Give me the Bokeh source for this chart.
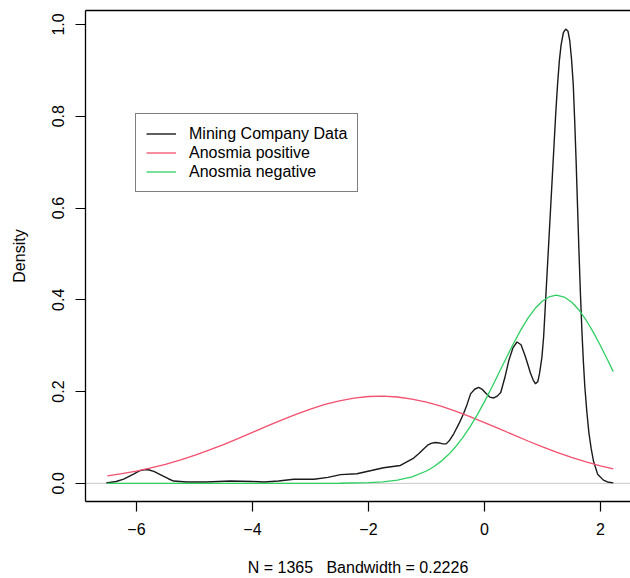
from bokeh.plotting import figure
from bokeh.models import Range1d, FixedTicker, LinearAxis, Span, Legend, LegendItem
from bokeh.embed import file_html
from bokeh.resources import INLINE

# ---- data ----
mining_x = [-6.52, -6.35, -6.22, -6.05, -5.95, -5.85, -5.78, -5.70, -5.59, -5.45,
            -5.36, -5.13, -4.80, -4.38, -4.00, -3.80, -3.55, -3.29, -2.94, -2.70,
            -2.48, -2.20, -1.95, -1.74, -1.45, -1.22, -1.13, -1.05, -0.98, -0.92,
            -0.85, -0.78, -0.72, -0.66, -0.60, -0.53, -0.44, -0.36, -0.30, -0.24,
            -0.17, -0.10, -0.04, 0.02, 0.09, 0.16, 0.22, 0.28, 0.35, 0.42,
            0.49, 0.56, 0.63, 0.70, 0.75, 0.79, 0.84, 0.88, 0.92, 0.95,
            0.99, 1.02, 1.05, 1.08, 1.11, 1.14, 1.17, 1.20, 1.23, 1.26,
            1.29, 1.32, 1.36, 1.40, 1.44, 1.47, 1.50, 1.53, 1.555, 1.58,
            1.605, 1.63, 1.655, 1.68, 1.705, 1.73, 1.765, 1.80, 1.84, 1.88,
            1.95, 2.05, 2.12, 2.22]
mining_d = [0.001, 0.004, 0.009, 0.020, 0.027, 0.030, 0.029, 0.026, 0.019, 0.010,
            0.005, 0.003, 0.003, 0.005, 0.004, 0.003, 0.005, 0.009, 0.009, 0.013,
            0.019, 0.021, 0.028, 0.034, 0.039, 0.055, 0.065, 0.075, 0.083, 0.087,
            0.089, 0.088, 0.086, 0.086, 0.094, 0.108, 0.130, 0.152, 0.172, 0.195,
            0.205, 0.209, 0.205, 0.197, 0.188, 0.186, 0.190, 0.198, 0.230, 0.268,
            0.295, 0.308, 0.302, 0.278, 0.258, 0.241, 0.225, 0.217, 0.222, 0.240,
            0.275, 0.320, 0.390, 0.460, 0.530, 0.600, 0.670, 0.740, 0.810, 0.870,
            0.920, 0.955, 0.982, 0.990, 0.985, 0.965, 0.925, 0.870, 0.790, 0.700,
            0.600, 0.500, 0.410, 0.330, 0.265, 0.210, 0.155, 0.110, 0.075, 0.048,
            0.020, 0.007, 0.003, 0.001]

pos_x = [-6.5, -6.25, -6.0, -5.75, -5.5, -5.25, -5.0, -4.75, -4.5, -4.25,
         -4.0, -3.75, -3.5, -3.25, -3.0, -2.75, -2.5, -2.25, -2.0, -1.75,
         -1.5, -1.25, -1.0, -0.75, -0.5, -0.25, 0.0, 0.25, 0.5, 0.75,
         1.0, 1.25, 1.5, 1.75, 2.0, 2.22]
pos_d = [0.0163, 0.0210, 0.0267, 0.0335, 0.0414, 0.0506, 0.0608, 0.0722, 0.0844, 0.0975,
         0.1109, 0.1245, 0.1378, 0.1504, 0.1619, 0.1719, 0.1799, 0.1858, 0.1892, 0.1900,
         0.1881, 0.1837, 0.1769, 0.1681, 0.1574, 0.1454, 0.1325, 0.1191, 0.1055, 0.0922,
         0.0794, 0.0675, 0.0566, 0.0468, 0.0381, 0.0315]

neg_x = [-6.5, -4.0, -3.0, -2.5, -2.0, -1.75, -1.5, -1.25, -1.0, -0.875,
         -0.75, -0.625, -0.5, -0.375, -0.25, -0.125, 0.0, 0.125, 0.25, 0.375,
         0.5, 0.625, 0.75, 0.875, 1.0, 1.125, 1.24, 1.375, 1.5, 1.625,
         1.75, 1.875, 2.0, 2.125, 2.22]
neg_d = [0.0, 0.0, 0.00002, 0.0002, 0.0014, 0.0032, 0.0070, 0.0142, 0.0269, 0.0362,
         0.0478, 0.0621, 0.0793, 0.0996, 0.1229, 0.1492, 0.1780, 0.2089, 0.2409, 0.2732,
         0.3046, 0.3339, 0.3599, 0.3814, 0.3974, 0.4071, 0.4100, 0.4059, 0.3952, 0.3783,
         0.3560, 0.3294, 0.2997, 0.2681, 0.2435]

x_ticks = [-6, -4, -2, 0, 2]
x_tick_labels = ["\u22126", "\u22124", "\u22122", "0", "2"]
y_ticks = [0.0, 0.2, 0.4, 0.6, 0.8, 1.0]
y_tick_labels = ["0.0", "0.2", "0.4", "0.6", "0.8", "1.0"]
legend_labels = ["Mining Company Data", "Anosmia positive", "Anosmia negative"]
x_title = "N = 1365\u00a0\u00a0\u00a0Bandwidth = 0.2226"
y_title = "Density"

FONT = "Liberation Sans"
FS = "16px"
BLACK = "#1a1a1a"
RED = "#F2506E"
GREEN = "#2FD062"

p = figure(width=630, height=578, output_backend="svg", toolbar_location=None,
           x_range=Range1d(-6.878, 2.517), y_range=Range1d(-0.0396, 1.0304),
           min_border_left=85, min_border_right=0, min_border_top=10, min_border_bottom=76)
p.grid.visible = False
p.outline_line_color = None
p.background_fill_color = "white"
p.border_fill_color = "white"

for ax in (p.xaxis[0], p.yaxis[0]):
    ax.axis_line_color = "black"
    ax.axis_line_width = 1.3
    ax.major_tick_line_color = "black"
    ax.major_tick_line_width = 1.2
    ax.major_tick_out = 10
    ax.major_tick_in = 0
    ax.minor_tick_line_color = None
    ax.major_label_text_font = FONT
    ax.major_label_text_font_size = FS
    ax.major_label_text_color = "black"
    ax.axis_label_text_font = FONT
    ax.axis_label_text_font_size = FS
    ax.axis_label_text_font_style = "normal"
    ax.axis_label_text_color = "black"
    ax.major_label_standoff = 11

xa = p.xaxis[0]
xa.ticker = FixedTicker(ticks=x_ticks)
xa.major_label_overrides = {t: l for t, l in zip(x_ticks, x_tick_labels)}
xa.axis_label = x_title
xa.axis_label_standoff = 21

ya = p.yaxis[0]
ya.ticker = FixedTicker(ticks=y_ticks)
ya.major_label_overrides = {t: l for t, l in zip(y_ticks, y_tick_labels)}
ya.major_label_orientation = "vertical"
ya.axis_label = y_title
ya.axis_label_standoff = 22

top = LinearAxis(ticker=FixedTicker(ticks=[]), axis_line_color="black", axis_line_width=1.3,
                 major_tick_out=0, major_tick_in=0, minor_tick_line_color=None,
                 major_label_text_font_size="0px")
p.add_layout(top, "above")

zero = Span(location=0, dimension="width", line_color="#C8C8C8", line_width=1, level="underlay")
p.add_layout(zero)

r1 = p.line(mining_x, mining_d, line_color=BLACK, line_width=1.4)
r2 = p.line(pos_x, pos_d, line_color=RED, line_width=1.3)
r3 = p.line(neg_x, neg_d, line_color=GREEN, line_width=1.3)

legend = Legend(items=[LegendItem(label=legend_labels[0], renderers=[r1]),
                       LegendItem(label=legend_labels[1], renderers=[r2]),
                       LegendItem(label=legend_labels[2], renderers=[r3])],
                location=(50, 309), margin=0, padding=10, spacing=0,
                glyph_width=30, glyph_height=19, label_height=19, label_standoff=13,
                label_text_font=FONT, label_text_font_size=FS, label_text_color="black",
                border_line_color="black", border_line_width=1.2,
                background_fill_color="white", background_fill_alpha=1.0)
p.add_layout(legend)

open("out.html", "w").write(file_html(p, INLINE))
